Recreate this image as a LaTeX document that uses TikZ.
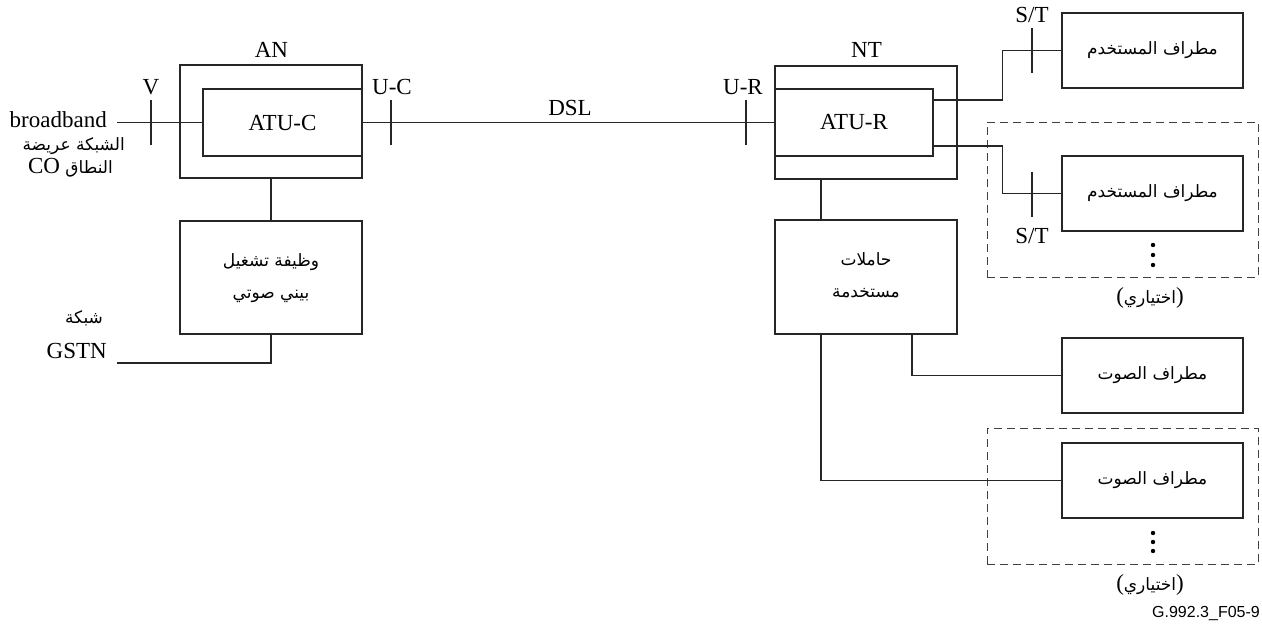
\documentclass[tikz,border=0pt]{standalone}
\usepackage{fontspec}
\setmainfont{Liberation Serif}
\newfontfamily\arabicfont[Script=Arabic]{DejaVu Sans}
\newfontfamily\figfont{Liberation Sans}
\TeXXeTstate=1
\usetikzlibrary{positioning}

\newcommand{\rtl}[1]{\beginR #1\endR}

\tikzstyle{every node}=[inner sep=0pt, font=\fontsize{23}{27}\selectfont]
\tikzstyle{unit}=[draw=black!85, line width=1.3pt]
\tikzstyle{wide}=[unit, minimum width=182pt, minimum height=113pt]
\tikzstyle{terminal}=[unit, minimum width=181pt, minimum height=75pt]
\tikzstyle{optional}=[draw=black!75, line width=1pt, dash pattern=on 8pt off 5pt, minimum width=271pt]
\tikzstyle{wire}=[draw=black!85, line width=1.3pt]
\tikzstyle{arlabel}=[align=center, font=\arabicfont\fontsize{17}{32}\selectfont]

\begin{document}
\begin{tikzpicture}[x=1pt, y=-1pt]
    \useasboundingbox (0,0) rectangle (1262,626);

    % access node side
    \node [wide] (an) at (271,121.5) {};
    \node [unit, minimum width=159pt, minimum height=67pt] (atuc) at (282.5,122.5) {ATU-C};
    \node (anlabel) at (271.5,50) {AN};
    \node [wide] (splitter) at (271,277.5) {};
    \node [arlabel] (splittertext) at (271,278) {\rtl{وظيفة تشغيل}\\\rtl{بيني صوتي}};

    % network termination side
    \node [wide] (nt) at (866,122.5) {};
    \node [unit, minimum width=158pt, minimum height=67pt] (atur) at (854,122.5) {ATU-R};
    \node (ntlabel) at (866.5,50) {NT};
    \node [wide, minimum height=114pt] (bearer) at (866,277) {};
    \node [arlabel] (bearertext) at (866,275) {\rtl{حاملات}\\\rtl{مستخدمة}};

    % terminals
    \node [optional, minimum height=155pt] (opt1) at (1122.5,199.5) {};
    \node [optional, minimum height=136pt] (opt2) at (1122.5,496) {};
    \node [terminal, arlabel] (user1) at (1152.5,50.5) {\rtl{مطراف المستخدم}};
    \node [terminal, arlabel] (user2) at (1152.5,193.5) {\rtl{مطراف المستخدم}};
    \node [terminal, arlabel] (voice1) at (1152.5,375.5) {\rtl{مطراف الصوت}};
    \node [terminal, arlabel] (voice2) at (1152.5,480.5) {\rtl{مطراف الصوت}};
    \foreach \y in {245,255,265,533,542,551}
        \fill (1153,\y) circle (2.2pt);
    \node (opt1label) at (1150,298) {({\arabicfont\fontsize{17}{20}\selectfont\rtl{اختياري}})};
    \node (opt2label) at (1150,585) {({\arabicfont\fontsize{17}{20}\selectfont\rtl{اختياري}})};

    % outside networks
    \coordinate (bbend) at (117,122.5);
    \coordinate (gstnend) at (117,363);
    \node [anchor=base east] (bb1) at (107,128) {broadband};
    \node [anchor=base east, font=\arabicfont\fontsize{17}{20}\selectfont] (bb2) at (125,150)
        {\rtl{الشبكة عريضة}};
    \node [anchor=base east, font=\arabicfont\fontsize{17}{20}\selectfont] (bb3) at (113,173)
        {{\rmfamily\fontsize{23}{27}\selectfont CO}\ \rtl{النطاق}};
    \node [anchor=base, font=\arabicfont\fontsize{17}{20}\selectfont] (gstn1) at (84,323) {\rtl{شبكة}};
    \node [anchor=base east] (gstn2) at (107,358) {GSTN};

    % reference points
    \node (v) at (151,87) {V};
    \node (uc) at (392,87) {U-C};
    \node (ur) at (743,87) {U-R};
    \node (dsl) at (570,108) {DSL};
    \node (st1) at (1032,15) {S/T};
    \node (st2) at (1032,236) {S/T};
    \foreach \x/\y in {151/122.5, 391/122.5, 746/122.5, 1032/51, 1032/194}
        \draw [wire] (\x,\y-22.5) -- (\x,\y+22.5);

    % wiring
    \draw [wire] (bbend) -- (atuc.west);
    \draw [wire] (atuc.east) -- (atur.west);
    \draw [wire] (an.south) -- (splitter.north);
    \draw [wire] (splitter.south) |- (gstnend);
    \draw [wire] ([yshift=22.5pt]atur.east) -- ++(69,0) |- (user1.west);
    \draw [wire] ([yshift=-23.5pt]atur.east) -- ++(69,0) |- (user2.west);
    \draw [wire] ([xshift=-45pt]nt.south) -- ([xshift=-45pt]bearer.north);
    \draw [wire] ([xshift=46pt]bearer.south) |- (voice1.west);
    \draw [wire] ([xshift=-45pt]bearer.south) |- (voice2.west);

    \node [anchor=east, font=\figfont\fontsize{16}{18}\selectfont] (figid) at (1260,613) {G.992.3\_F05-9};
\end{tikzpicture}
\end{document}
